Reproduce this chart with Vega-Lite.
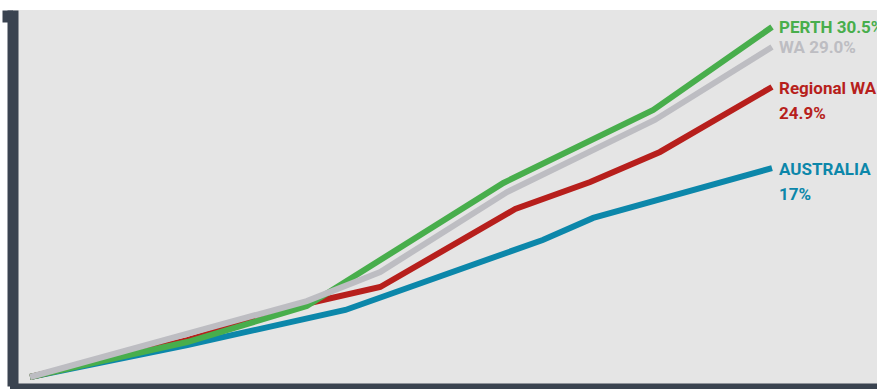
{
  "$schema": "https://vega.github.io/schema/vega-lite/v6.json",
  "autosize": "none",
  "width": 864.5,
  "height": 376,
  "padding": {"left": 12.5, "top": 10, "right": 0, "bottom": 3},
  "background": "#ffffff",
  "config": {"view": {"stroke": null, "fill": "#e5e5e5"}},
  "datasets": {
    "growth": [
      {"series": "AUSTRALIA", "t": 0, "v": 0},
      {"series": "AUSTRALIA", "t": 2.12, "v": 2.79},
      {"series": "AUSTRALIA", "t": 4.25, "v": 5.84},
      {"series": "AUSTRALIA", "t": 6.91, "v": 11.94},
      {"series": "AUSTRALIA", "t": 7.59, "v": 13.86},
      {"series": "AUSTRALIA", "t": 10, "v": 18.21},
      {"series": "Regional WA", "t": 0, "v": 0},
      {"series": "Regional WA", "t": 2.12, "v": 3.22},
      {"series": "Regional WA", "t": 3.77, "v": 6.45},
      {"series": "Regional WA", "t": 4.72, "v": 7.84},
      {"series": "Regional WA", "t": 6.54, "v": 14.64},
      {"series": "Regional WA", "t": 7.55, "v": 16.99},
      {"series": "Regional WA", "t": 8.49, "v": 19.61},
      {"series": "Regional WA", "t": 10, "v": 25.27},
      {"series": "PERTH", "t": 0, "v": 0},
      {"series": "PERTH", "t": 2.12, "v": 3.05},
      {"series": "PERTH", "t": 3.73, "v": 6.19},
      {"series": "PERTH", "t": 6.38, "v": 16.91},
      {"series": "PERTH", "t": 8.4, "v": 23.27},
      {"series": "PERTH", "t": 10, "v": 30.5},
      {"series": "WA", "t": 0, "v": 0},
      {"series": "WA", "t": 3.73, "v": 6.62},
      {"series": "WA", "t": 4.72, "v": 9.15},
      {"series": "WA", "t": 6.43, "v": 16.12},
      {"series": "WA", "t": 8.42, "v": 22.4},
      {"series": "WA", "t": 10, "v": 28.76}
    ],
    "labels": [
      {"series": "AUSTRALIA", "label": "AUSTRALIA\n17%"},
      {"series": "Regional WA", "label": "Regional WA\n\u00a024.9%"},
      {"series": "PERTH", "label": "PERTH 30.5%"},
      {"series": "WA", "label": "WA 29.0%"}
    ]
  },
  "data": {"name": "growth"},
  "encoding": {
    "x": {
      "field": "t",
      "type": "quantitative",
      "scale": {"domain": [-0.236, 11.415], "nice": false, "zero": false},
      "axis": {"title": null, "labels": false, "ticks": false, "grid": false, "domain": true, "domainColor": "#3a4350", "domainWidth": 6, "domainCap": "square"}
    },
    "y": {
      "field": "v",
      "type": "quantitative",
      "scale": {"domain": [-0.784, 31.98], "nice": false, "zero": false},
      "axis": {"title": null, "labels": false, "grid": false, "domain": true, "domainColor": "#3a4350", "domainWidth": 11, "values": [31.46], "ticks": true, "tickColor": "#3a4350", "tickSize": 10.5, "tickWidth": 12}
    },
    "color": {
      "field": "series",
      "type": "nominal",
      "scale": {"domain": ["AUSTRALIA", "Regional WA", "PERTH", "WA"], "range": ["#0c87aa", "#b71f1c", "#48ae4c", "#bdbdc2"]},
      "legend": null
    }
  },
  "layer": [
    {
      "mark": {"type": "line", "strokeWidth": 6, "strokeCap": "butt", "strokeJoin": "miter"}
    },
    {
      "transform": [
        {"joinaggregate": [{"op": "max", "field": "t", "as": "tmax"}], "groupby": ["series"]},
        {"filter": "datum.t === datum.tmax"},
        {"lookup": "series", "from": {"data": {"name": "labels"}, "key": "series", "fields": ["label"]}}
      ],
      "mark": {"type": "text", "align": "left", "baseline": "alphabetic", "dx": 7, "dy": 6.5, "lineBreak": "\n", "lineHeight": 25, "font": "Roboto", "fontWeight": "bold", "fontSize": 17},
      "encoding": {"text": {"field": "label"}}
    }
  ]
}
